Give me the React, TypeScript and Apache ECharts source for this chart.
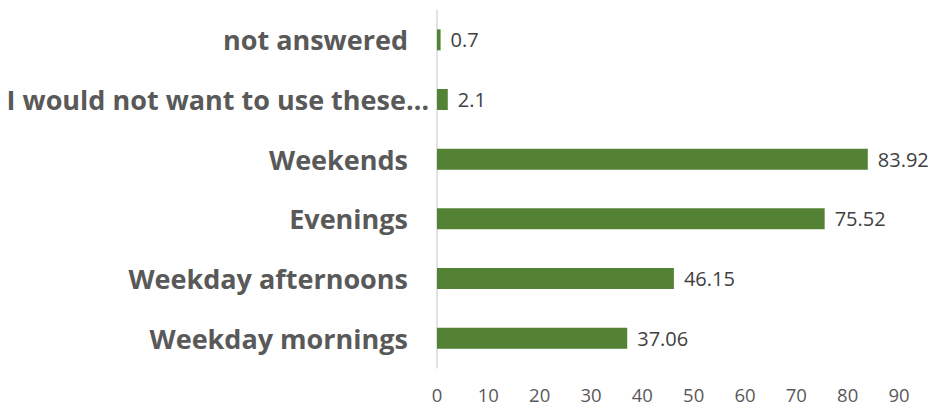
import React, { useEffect, useRef } from "react";
import * as echarts from "echarts";

const categories = [
  "Weekday mornings",
  "Weekday afternoons",
  "Evenings",
  "Weekends",
  "I would not want to use these…",
  "not answered",
];
const values = [37.06, 46.15, 75.52, 83.92, 2.1, 0.7];
const xTicks = { min: 0, max: 90, interval: 10 };
const longLabel = categories[4];

export default function App() {
  const ref = useRef<HTMLDivElement>(null);
  useEffect(() => {
    document.body.style.margin = "0";
    const chart = echarts.init(ref.current!, undefined, { renderer: "svg" });
    chart.setOption({
      animation: false,
      grid: { left: 437, right: 36, top: 10, bottom: 39, containLabel: false },
      xAxis: {
        type: "value",
        min: xTicks.min,
        max: xTicks.max,
        interval: xTicks.interval,
        splitLine: { show: false },
        axisLine: { show: false },
        axisTick: { show: false },
        axisLabel: {
          color: "#595959",
          fontFamily: "Open Sans",
          fontSize: 18.5,
          lineHeight: 18,
          margin: 17,
        },
      },
      yAxis: {
        type: "category",
        data: categories,
        axisLine: { show: true, lineStyle: { color: "#d9d9d9", width: 1.5 } },
        axisTick: { show: false },
        axisLabel: {
          margin: 8,
          formatter: (v: string) => (v === longLabel ? `{l|${v}}` : `{n|${v}}`),
          rich: {
            n: {
              color: "#595959",
              fontFamily: "Open Sans",
              fontWeight: "bold",
              fontSize: 27,
              padding: [0, 21, 0, 0],
            },
            l: {
              color: "#595959",
              fontFamily: "Open Sans",
              fontWeight: "bold",
              fontSize: 27,
            },
          },
        },
      },
      series: [
        {
          type: "bar",
          data: values,
          barWidth: 21,
          itemStyle: { color: "#548235" },
          label: {
            show: true,
            position: "right",
            distance: 10,
            color: "#404040",
            fontFamily: "Open Sans",
            fontSize: 20,
          },
        },
      ],
    });
    return () => chart.dispose();
  }, []);
  return <div ref={ref} style={{ width: 935, height: 407 }} />;
}
